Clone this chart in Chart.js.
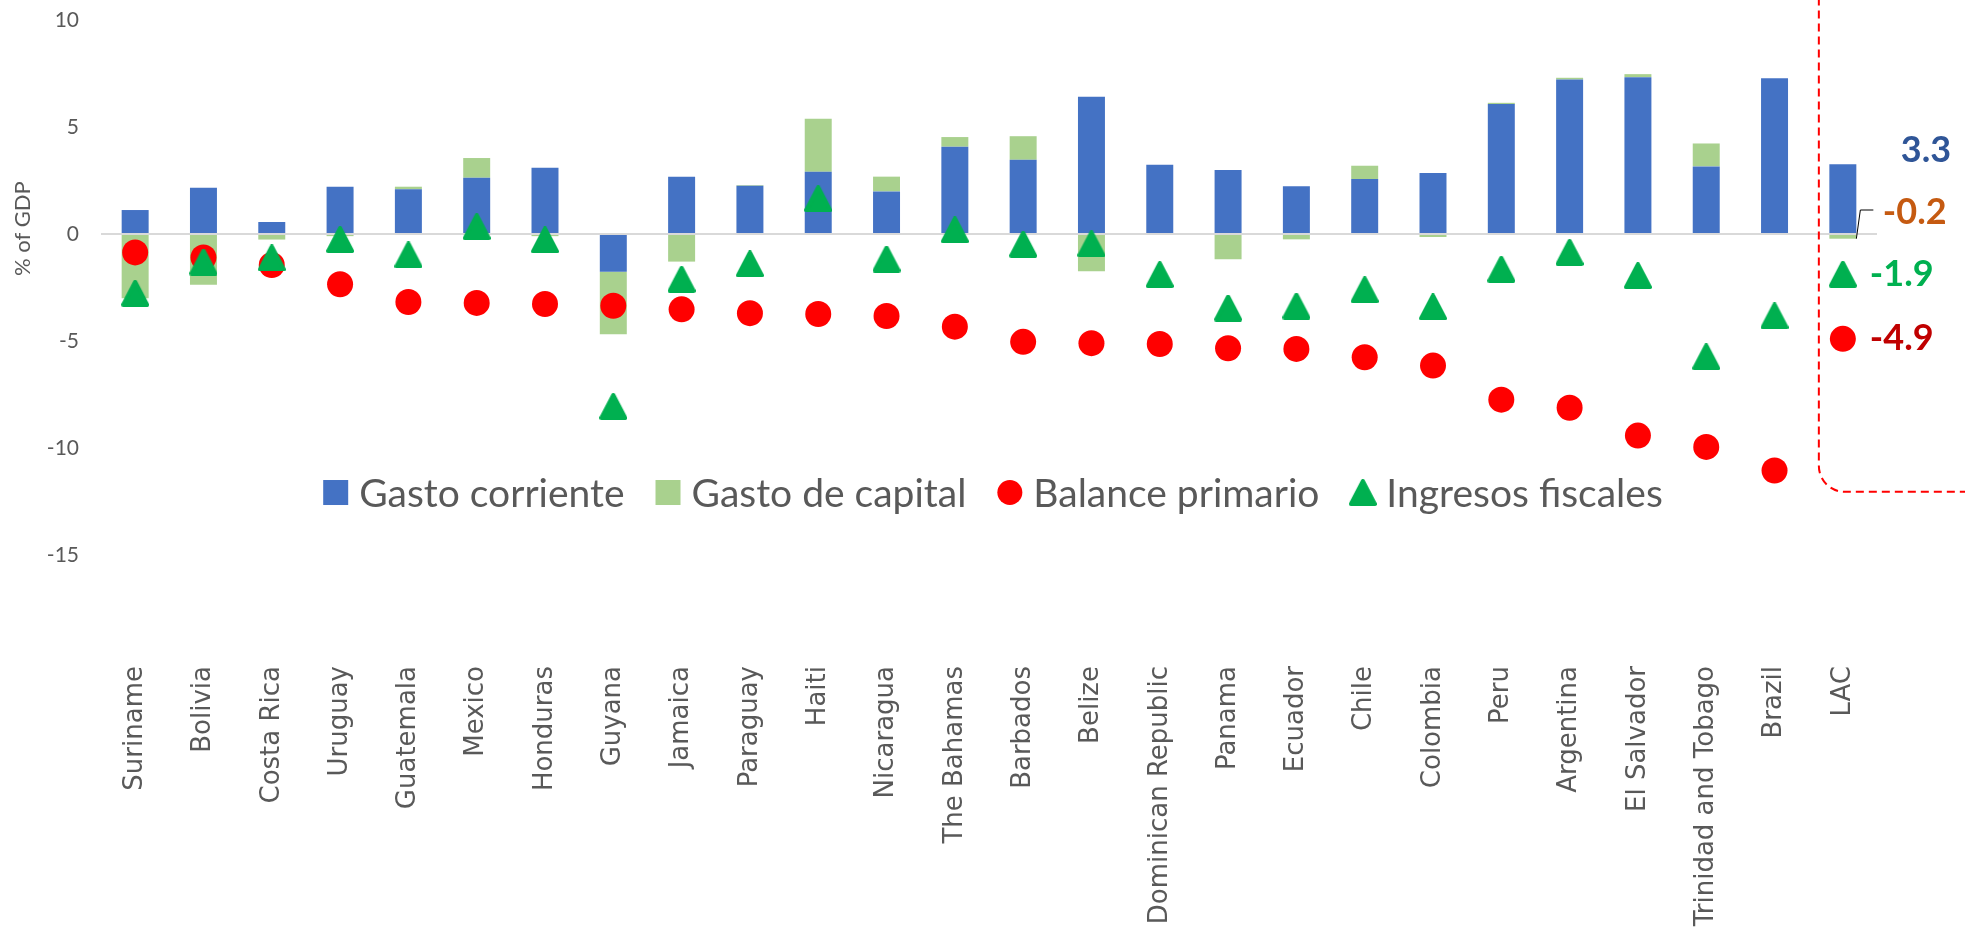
<!DOCTYPE html>
<html><head><meta charset="utf-8">
<script src="https://cdn.jsdelivr.net/npm/chart.js@4.4.1/dist/chart.umd.min.js"></script>
<style>html,body{margin:0;padding:0;background:#fff;overflow:hidden}canvas{display:block}</style>
</head><body>
<canvas id="c" width="1965" height="932"></canvas>
<script>
const categories = ['Suriname','Bolivia','Costa Rica','Uruguay','Guatemala','Mexico','Honduras','Guyana','Jamaica','Paraguay','Haiti','Nicaragua','The Bahamas','Barbados','Belize','Dominican Republic','Panama','Ecuador','Chile','Colombia','Peru','Argentina','El Salvador','Trinidad and Tobago','Brazil','LAC'];
const gastoCorriente = [1.12, 2.16, 0.56, 2.21, 2.09, 2.63, 3.10, -1.76, 2.68, 2.26, 2.91, 1.99, 4.08, 3.47, 6.41, 3.24, 2.99, 2.23, 2.57, 2.85, 6.07, 7.22, 7.33, 3.16, 7.28, 3.26];
const gastoCapital = [-3.0, -2.37, -0.26, -0.1, 0.12, 0.92, -0.1, -2.92, -1.29, 0.03, 2.48, 0.69, 0.45, 1.10, -1.74, 0, -1.18, -0.25, 0.62, -0.14, 0.06, 0.08, 0.14, 1.07, 0, -0.22];
const balancePrimario = [-0.86, -1.10, -1.45, -2.35, -3.18, -3.22, -3.27, -3.35, -3.52, -3.70, -3.74, -3.83, -4.33, -5.04, -5.10, -5.14, -5.34, -5.37, -5.76, -6.15, -7.74, -8.12, -9.42, -9.95, -11.05, -4.9];
const ingresosFiscales = [-2.77, -1.31, -1.12, -0.26, -0.98, 0.34, -0.28, -8.06, -2.12, -1.40, 1.65, -1.17, 0.19, -0.48, -0.46, -1.90, -3.46, -3.37, -2.61, -3.41, -1.65, -0.86, -1.95, -5.74, -3.83, -1.88];
const yTickValues = [10, 5, 0, -5, -10, -15];
const seriesNames = ['Gasto corriente', 'Gasto de capital', 'Balance primario', 'Ingresos fiscales'];
const lacLabels = ['3.3', '-0.2', '-1.9', '-4.9'];
const yAxisTitle = '% of GDP';

const BLUE = '#4472C4', LGREEN = '#A9D18E', RED = '#FF0000', GREEN = '#00B050', GREY = '#595959';

function makeTriangle(w, h, color) {
  const c = document.createElement('canvas');
  c.width = w; c.height = h;
  const g = c.getContext('2d');
  const lw = 4;
  g.fillStyle = color; g.strokeStyle = color; g.lineWidth = lw; g.lineJoin = 'round';
  g.beginPath();
  g.moveTo(w / 2, lw / 2);
  g.lineTo(w - lw / 2, h - lw / 2);
  g.lineTo(lw / 2, h - lw / 2);
  g.closePath(); g.fill(); g.stroke();
  return c;
}
const triImg = makeTriangle(28, 27, GREEN);

const overlay = {
  id: 'overlay',
  afterDatasetsDraw(chart) {
    const ctx = chart.ctx, xs = chart.scales.x, ys = chart.scales.y;
    const n = categories.length - 1;
    const xc = xs.getPixelForValue(n);
    ctx.save();
    // dashed highlight box around LAC
    const left = xc - 24, bottom = ys.getPixelForValue(-12.05), r = 26;
    ctx.strokeStyle = RED; ctx.lineWidth = 2; ctx.setLineDash([8, 5]);
    ctx.beginPath();
    ctx.moveTo(left + r, -40);
    ctx.arcTo(left, -40, left, 0, r);
    ctx.lineTo(left, bottom - r);
    ctx.arcTo(left, bottom, left + r, bottom, r);
    ctx.lineTo(chart.width + 20, bottom);
    ctx.stroke();
    ctx.setLineDash([]);
    // leader line for -0.2
    const barRight = xc + 13.5;
    ctx.strokeStyle = '#000'; ctx.lineWidth = 1;
    ctx.beginPath();
    ctx.moveTo(barRight, ys.getPixelForValue(gastoCapital[n]));
    ctx.lineTo(barRight + 4, ys.getPixelForValue(0) - 24);
    ctx.lineTo(barRight + 17, ys.getPixelForValue(0) - 24);
    ctx.stroke();
    // LAC labels
    ctx.font = 'bold 36px Lato';
    ctx.textBaseline = 'middle'; ctx.textAlign = 'left';
    ctx.fillStyle = '#2F5597';
    ctx.fillText(lacLabels[0], xc + 58, ys.getPixelForValue(gastoCorriente[n]) - 14);
    ctx.fillStyle = '#C55A11';
    ctx.fillText(lacLabels[1], xc + 40, ys.getPixelForValue(0) - 22);
    ctx.fillStyle = GREEN;
    ctx.fillText(lacLabels[2], xc + 27, ys.getPixelForValue(ingresosFiscales[n]));
    ctx.fillStyle = '#C00000';
    ctx.fillText(lacLabels[3], xc + 27, ys.getPixelForValue(balancePrimario[n]));
    ctx.restore();
  },
  afterDraw(chart) {
    const ctx = chart.ctx, ys = chart.scales.y, area = chart.chartArea;
    ctx.save();
    // y-axis title
    ctx.fillStyle = GREY; ctx.font = '22px Lato';
    ctx.translate(23, ys.getPixelForValue(0.25));
    ctx.rotate(-Math.PI / 2);
    ctx.textAlign = 'center'; ctx.textBaseline = 'middle';
    ctx.fillText(yAxisTitle, 0, 0);
    ctx.restore();
    // legend
    ctx.save();
    ctx.font = '39px Lato';
    ctx.textBaseline = 'middle'; ctx.textAlign = 'left';
    const mk = 25, gap = 11, itemGap = 31;
    const widths = seriesNames.map(s => ctx.measureText(s).width);
    const total = widths.reduce((a, b) => a + b, 0) + seriesNames.length * (mk + gap) + (seriesNames.length - 1) * itemGap;
    let x = (area.left + area.right) / 2 + 4 - total / 2;
    const y = ys.getPixelForValue(-12.08);
    seriesNames.forEach((s, i) => {
      if (i === 0 || i === 1) {
        ctx.fillStyle = i === 0 ? BLUE : LGREEN;
        ctx.fillRect(x, y - mk / 2, mk, mk);
      } else if (i === 2) {
        ctx.fillStyle = RED;
        ctx.beginPath(); ctx.arc(x + mk / 2, y, mk / 2, 0, Math.PI * 2); ctx.fill();
      } else {
        ctx.drawImage(triImg, x + mk / 2 - triImg.width / 2, y - triImg.height / 2);
      }
      x += mk + gap;
      ctx.fillStyle = GREY;
      ctx.fillText(s, x, y + 2);
      x += widths[i] + itemGap;
    });
    ctx.restore();
  }
};

new Chart(document.getElementById('c'), {
  data: {
    labels: categories,
    datasets: [
      { type: 'line', label: seriesNames[3], data: ingresosFiscales, showLine: false, stack: 'ing', pointStyle: triImg, pointRadius: 14, pointHoverRadius: 14, order: 0, backgroundColor: GREEN, borderColor: GREEN },
      { type: 'line', label: seriesNames[2], data: balancePrimario, showLine: false, stack: 'bal', pointStyle: 'circle', pointRadius: 13, pointHoverRadius: 13, pointBorderWidth: 0, order: 1, backgroundColor: RED, borderColor: RED },
      { type: 'bar', label: seriesNames[0], data: gastoCorriente, backgroundColor: BLUE, stack: 's', order: 2, barPercentage: 0.395, categoryPercentage: 1 },
      { type: 'bar', label: seriesNames[1], data: gastoCapital, backgroundColor: LGREEN, stack: 's', order: 3, barPercentage: 0.395, categoryPercentage: 1 }
    ]
  },
  options: {
    responsive: false, animation: false, devicePixelRatio: 1,
    layout: { padding: { left: 0, right: 88, top: 20, bottom: 0 } },
    plugins: { legend: { display: false }, tooltip: { enabled: false } },
    scales: {
      x: {
        stacked: true,
        grid: { display: false, drawTicks: false },
        border: { display: false },
        ticks: { autoSkip: false, maxRotation: 90, minRotation: 90, padding: 4, color: GREY, font: { family: 'DejaVu Sans', size: 26 } },
        afterFit(s) { s.height = 270; s.paddingLeft = 0; s.paddingRight = 0; }
      },
      y: {
        stacked: true, min: -20, max: 10,
        afterBuildTicks(s) { s.ticks = yTickValues.concat([-20]).map(v => ({ value: v })); },
        grid: { drawTicks: false, color: c => (c.tick && c.tick.value === 0 ? '#D9D9D9' : 'rgba(0,0,0,0)'), lineWidth: 2 },
        border: { display: false },
        ticks: { padding: 22, color: GREY, font: { family: 'Lato', size: 21 }, callback: v => (yTickValues.includes(v) ? String(v) : '') },
        afterFit(s) { s.width = 101; s.paddingTop = 0; s.paddingBottom = 0; }
      }
    }
  },
  plugins: [overlay]
});
</script>
</body></html>
